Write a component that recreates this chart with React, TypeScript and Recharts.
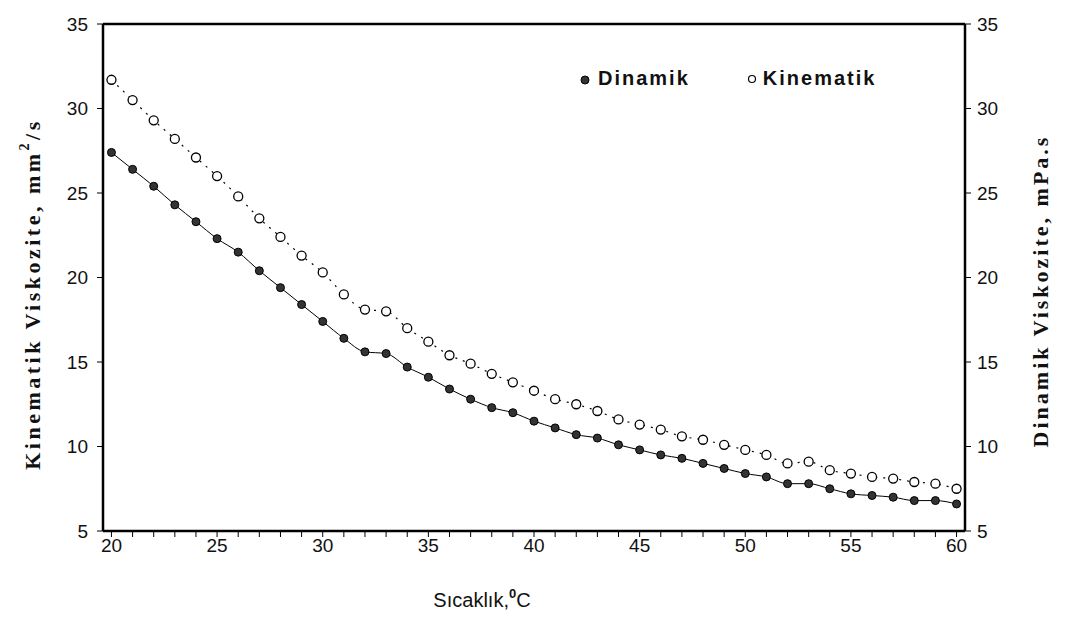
import React from 'react';
import { LineChart, Line, XAxis, YAxis, ReferenceLine } from 'recharts';

const temperatures = [20,21,22,23,24,25,26,27,28,29,30,31,32,33,34,35,36,37,38,39,40,41,42,43,44,45,46,47,48,49,50,51,52,53,54,55,56,57,58,59,60];
const dinamik = [27.4,26.4,25.4,24.3,23.3,22.3,21.5,20.4,19.4,18.4,17.4,16.4,15.6,15.5,14.7,14.1,13.4,12.8,12.3,12.0,11.5,11.1,10.7,10.5,10.1,9.8,9.5,9.3,9.0,8.7,8.4,8.2,7.8,7.8,7.5,7.2,7.1,7.0,6.8,6.8,6.6];
const kinematik = [31.7,30.5,29.3,28.2,27.1,26.0,24.8,23.5,22.4,21.3,20.3,19.0,18.1,18.0,17.0,16.2,15.4,14.9,14.3,13.8,13.3,12.8,12.5,12.1,11.6,11.3,11.0,10.6,10.4,10.1,9.8,9.5,9.0,9.1,8.6,8.4,8.2,8.1,7.9,7.8,7.5];
const xTicks = temperatures;
const yTicks = [5,10,15,20,25,30,35];
const seriesNames = ['Dinamik', 'Kinematik'];
const leftTitle = 'Kinematik Viskozite, mm';
const rightTitle = 'Dinamik Viskozite, mPa.s';
const xTitle = 'Sıcaklık,';

const data = temperatures.map((t, i) => ({ t, dinamik: dinamik[i], kinematik: kinematik[i] }));

const tickFamily = 'Liberation Sans Narrow, Arial Narrow, Liberation Sans, Arial, sans-serif';
const tickFont = { fontFamily: tickFamily, fontSize: 19, fill: '#111' };

const LeftTitle = () => (
  <text
    x={24}
    y={286}
    transform="rotate(-90 24 286)"
    textAnchor="middle"
    dominantBaseline="central"
    style={{ fontFamily: 'Liberation Serif, Times New Roman, serif', fontSize: 22, fontWeight: 'bold', fill: '#111', letterSpacing: 3.5 }}
  >
    {leftTitle}
    <tspan dy={-8} fontSize={14}>2</tspan>
    <tspan dy={8}>/s</tspan>
  </text>
);

const RightTitle = () => (
  <text
    x={1032}
    y={283}
    transform="rotate(-90 1032 283)"
    textAnchor="middle"
    dominantBaseline="central"
    style={{ fontFamily: 'Liberation Serif, Times New Roman, serif', fontSize: 22, fontWeight: 'bold', fill: '#111', letterSpacing: 3 }}
  >
    {rightTitle}
  </text>
);

const XTitle = () => (
  <text
    x={474}
    y={592}
    textAnchor="middle"
    dominantBaseline="central"
    style={{ fontFamily: tickFamily, fontSize: 20, fill: '#111' }}
  >
    {xTitle}
    <tspan dy={-7} fontSize={13} fontWeight="bold">0</tspan>
    <tspan dy={7}>C</tspan>
  </text>
);

export default function App() {
  return (
    <div style={{ position: 'relative', width: 1050, height: 612 }}>
      <LineChart width={1050} height={612} data={data} margin={{ top: 16, right: 33, bottom: 49, left: 35 }}>
        <XAxis
          dataKey="t"
          type="number"
          domain={[19.6, 60.4]}
          ticks={xTicks}
          interval={0}
          allowDataOverflow
          tickFormatter={(v: number) => (v % 5 === 0 ? String(v) : '')}
          tick={tickFont}
          tickSize={6}
          tickLine={{ stroke: '#000', strokeWidth: 1 }}
          axisLine={{ stroke: '#000', strokeWidth: 2.5 }}
          height={40}
          label={{ content: () => <XTitle /> }}
        />
        <YAxis
          yAxisId="left"
          domain={[5, 35]}
          ticks={yTicks}
          interval={0}
          allowDataOverflow
          tick={{ ...tickFont, dx: -7 }}
          tickSize={6}
          tickLine={{ stroke: '#000', strokeWidth: 1 }}
          axisLine={{ stroke: '#000', strokeWidth: 2.5 }}
          width={60}
          label={{ content: () => <LeftTitle /> }}
        />
        <YAxis
          yAxisId="right"
          orientation="right"
          domain={[5, 35]}
          ticks={yTicks}
          interval={0}
          allowDataOverflow
          tick={{ ...tickFont, dx: 4 }}
          tickSize={6}
          tickLine={{ stroke: '#000', strokeWidth: 1 }}
          axisLine={{ stroke: '#000', strokeWidth: 2.5 }}
          width={60}
          label={{ content: () => <RightTitle /> }}
        />
        <ReferenceLine yAxisId="left" y={35} stroke="#000" strokeWidth={2.5} />
        <Line
          yAxisId="left"
          dataKey="kinematik"
          name={seriesNames[1]}
          type="monotone"
          stroke="#000"
          strokeWidth={1.2}
          strokeDasharray="2 6"
          dot={{ r: 4.5, fill: '#fff', stroke: '#000', strokeWidth: 1.3, strokeDasharray: '' }}
          isAnimationActive={false}
        />
        <Line
          yAxisId="right"
          dataKey="dinamik"
          name={seriesNames[0]}
          type="monotone"
          stroke="#000"
          strokeWidth={1}
          dot={{ r: 4, fill: '#333', stroke: '#000', strokeWidth: 1 }}
          isAnimationActive={false}
        />
      </LineChart>
      <div
        style={{
          position: 'absolute',
          left: 571,
          top: 59,
          display: 'flex',
          alignItems: 'center',
          fontFamily: 'Liberation Sans, Arial, sans-serif',
          fontWeight: 'bold',
          fontSize: 20,
          letterSpacing: 2,
          color: '#111',
          whiteSpace: 'nowrap',
        }}
      >
        <svg width={12} height={12} style={{ marginRight: 7 }}>
          <circle cx={6} cy={7} r={4} fill="#333" stroke="#000" />
        </svg>
        <span>{seriesNames[0]}</span>
        <svg width={12} height={12} style={{ marginLeft: 56, marginRight: 5 }}>
          <circle cx={6} cy={6} r={3.5} fill="#fff" stroke="#000" strokeWidth={1.2} />
        </svg>
        <span>{seriesNames[1]}</span>
      </div>
    </div>
  );
}
